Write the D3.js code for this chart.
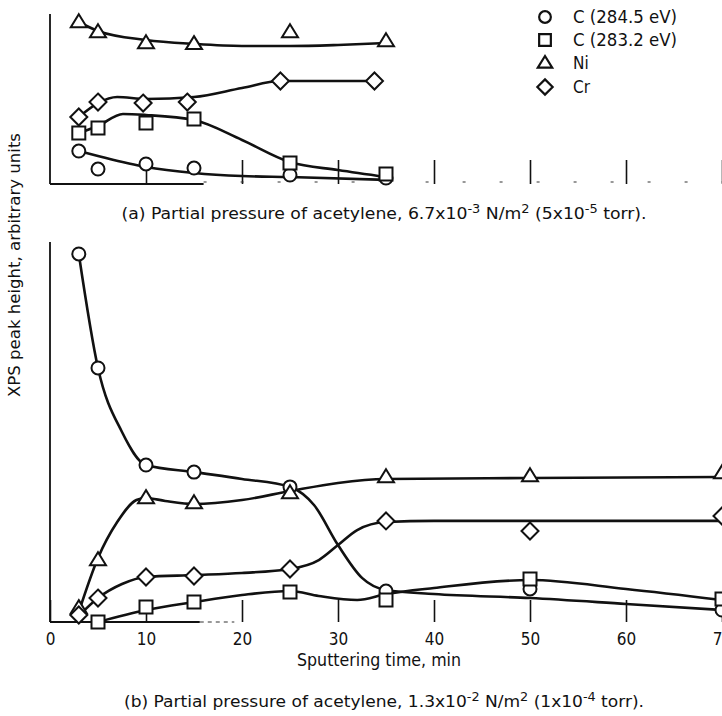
<!DOCTYPE html>
<html>
<head>
<meta charset="utf-8">
<script src="https://cdnjs.cloudflare.com/ajax/libs/d3/7.8.5/d3.min.js"></script>
<style>
  body { margin: 0; background: #fff; }
  svg { display: block; }
  text { font-family: "DejaVu Sans Condensed", "Liberation Sans Narrow", sans-serif; font-stretch: condensed; fill: #111; }
</style>
</head>
<body>
<svg id="chart" width="722" height="716"></svg>
<script>
var width = 722;
var height = 716;

// tick values along sputtering time, min
var timeTicks = [0, 10, 20, 30, 40, 50, 60, 70];

// legend
var seriesNames = ["C (284.5 eV)", "C (283.2 eV)", "Ni", "Cr"];
var seriesShapes = ["circle", "square", "triangle", "diamond"];

// ---- panel (a): 6.7x10^-3 N/m2, peak height in arbitrary units (0..10)
var aTimes = [3, 5, 10, 15, 25, 35];
var aCrTimes = [3, 5, 9.7, 14.3, 24, 33.8];
var aC2845 = [1.94, 0.88, 1.18, 0.94, 0.53, 0.35];
var aC2832 = [3.0, 3.29, 3.59, 3.82, 1.24, 0.59];
var aNi = [9.53, 8.94, 8.29, 8.24, 8.94, 8.41];
var aCr = [3.94, 4.82, 4.76, 4.82, 6.06, 6.06];
// hand-faired curves of panel (a), [time, height]
var aC2845Fit = [[3, 1.94], [5, 1.65], [10, 1.0], [15, 0.65], [20, 0.47], [25, 0.41], [35, 0.24]];
var aC2832Fit = [[3, 3.0], [5, 3.41], [7.6, 4.12], [10, 4.06], [15, 3.76], [20, 2.59], [25, 1.29], [30, 0.82], [35, 0.41]];
var aNiFit = [[3, 9.53], [5, 9.0], [10, 8.47], [15, 8.24], [20, 8.12], [25, 8.12], [30, 8.18], [35, 8.29]];
var aCrFit = [[3, 3.94], [5, 4.76], [7, 5.12], [10, 5.0], [15, 5.12], [20, 5.65], [24, 6.06], [33.8, 6.06]];

// ---- panel (b): 1.3x10^-2 N/m2, peak height in arbitrary units (0..20)
var bTimes = [3, 5, 10, 15, 25, 35, 50, 70];
var bC2832Times = [5, 10, 15, 25, 35, 50, 70];
var bC2845 = [19.37, 13.37, 8.26, 7.89, 7.11, 1.63, 1.74, 0.63];
var bC2832 = [0, 0.79, 1.05, 1.58, 1.16, 2.26, 1.21];
var bNi = [0.74, 3.26, 6.53, 6.26, 6.79, 7.63, 7.68, 7.84];
var bCr = [0.37, 1.26, 2.37, 2.42, 2.79, 5.32, 4.79, 5.58];
var bC2845Fit = [[3, 19.37], [5, 13.37], [7.5, 10.0], [10, 8.26], [15, 7.89], [20, 7.53], [25, 7.11], [27.5, 6.16], [30, 4.05], [32.5, 2.32], [35, 1.68], [40, 1.47], [50, 1.26], [60, 0.95], [70, 0.63]];
var bC2832Fit = [[5, 0], [10, 0.63], [15, 1.05], [20, 1.42], [25, 1.63], [28, 1.37], [32, 1.16], [35, 1.47], [40, 1.79], [50, 2.21], [60, 1.74], [70, 1.16]];
var bNiFit = [[3, 0.53], [5, 3.37], [7, 5.26], [9, 6.42], [10, 6.53], [12, 6.37], [15, 6.21], [20, 6.42], [25, 6.89], [30, 7.32], [35, 7.53], [50, 7.58], [70, 7.63]];
var bCrFit = [[3, 0.32], [5, 1.26], [7.5, 2.0], [10, 2.37], [15, 2.47], [20, 2.58], [25, 2.79], [28, 3.26], [30, 4.05], [32, 4.84], [35, 5.26], [40, 5.32], [70, 5.32]];

var svg = d3.select("#chart");
svg.append("rect").attr("width", width).attr("height", height).attr("fill", "#fff");

var xScale = d3.scaleLinear().domain([0, 70]).range([50, 722]);
var yA = d3.scaleLinear().domain([0, 10]).range([184, 14]);
var yB = d3.scaleLinear().domain([0, 20]).range([622, 242]);

function markerPath(kind, cx, cy, k) {
    k = k || 1;
    if (kind === "circle") {
        let r = 6.5 * k;
        return "M" + (cx - r) + "," + cy + "a" + r + "," + r + " 0 1,0 " + (2 * r) + ",0a" + r + "," + r + " 0 1,0 " + (-2 * r) + ",0Z";
    }
    if (kind === "square") {
        let s = 6.5 * k;
        return "M" + (cx - s) + "," + (cy - s) + "h" + (2 * s) + "v" + (2 * s) + "h" + (-2 * s) + "Z";
    }
    if (kind === "triangle") {
        let w = 16 * k, h = 13 * k;
        return "M" + cx + "," + (cy - h * 0.6) + "L" + (cx + w / 2) + "," + (cy + h * 0.4) + "L" + (cx - w / 2) + "," + (cy + h * 0.4) + "Z";
    }
    let d = 8.5 * k;
    return "M" + cx + "," + (cy - d) + "L" + (cx + d) + "," + cy + "L" + cx + "," + (cy + d) + "L" + (cx - d) + "," + cy + "Z";
}

function drawPanel(yScale, fits, series) {
    let g = svg.append("g");
    let line = d3.line()
        .x(d => xScale(d[0]))
        .y(d => yScale(d[1]))
        .curve(d3.curveMonotoneX);
    fits.forEach(function(f) {
        g.append("path")
            .attr("d", line(f))
            .attr("fill", "none")
            .attr("stroke", "#111")
            .attr("stroke-width", 2.6)
            .attr("stroke-linejoin", "round");
    });
    series.forEach(function(s) {
        g.selectAll(null)
            .data(s.values.map((v, i) => [s.times[i], v]))
            .enter().append("path")
            .attr("d", d => markerPath(s.shape, xScale(d[0]), yScale(d[1])))
            .attr("fill", "#fff")
            .attr("stroke", "#111")
            .attr("stroke-width", 2);
    });
    return g;
}

// ---------- axes (a)
var axisA = d3.axisBottom(xScale).tickValues(timeTicks.slice(1)).tickSizeInner(-24).tickSizeOuter(0).tickFormat("");
var gA = svg.append("g").attr("transform", "translate(0," + yA(0) + ")").call(axisA);
gA.select(".domain").remove();
gA.selectAll(".tick line").attr("stroke", "#111").attr("stroke-width", 1.6);
svg.append("line").attr("x1", xScale(0)).attr("x2", xScale(0)).attr("y1", yA(10)).attr("y2", yA(0))
    .attr("stroke", "#111").attr("stroke-width", 1.8);
svg.append("line").attr("x1", xScale(0)).attr("x2", xScale(16)).attr("y1", yA(0)).attr("y2", yA(0))
    .attr("stroke", "#111").attr("stroke-width", 1.8);
svg.append("line").attr("x1", xScale(16)).attr("x2", xScale(70)).attr("y1", yA(0) - 2).attr("y2", yA(0) - 2)
    .attr("stroke", "#333").attr("stroke-width", 1.2).attr("stroke-dasharray", "3,34");

drawPanel(yA, [aC2845Fit, aC2832Fit, aNiFit, aCrFit], [
    {shape: "circle", times: aTimes, values: aC2845},
    {shape: "square", times: aTimes, values: aC2832},
    {shape: "triangle", times: aTimes, values: aNi},
    {shape: "diamond", times: aCrTimes, values: aCr}
]);

// ---------- legend
var legend = svg.append("g");
var legendRows = [17, 40, 63, 87];
var legendWidths = [104, 104, null, null];
seriesNames.forEach(function(name, i) {
    legend.append("path")
        .attr("d", markerPath(seriesShapes[i], 545, legendRows[i], 0.9))
        .attr("fill", "#fff").attr("stroke", "#111").attr("stroke-width", 2.2);
    let t = legend.append("text")
        .attr("x", 573).attr("y", legendRows[i] + 6)
        .style("font-size", "17px")
        .text(name);
    if (legendWidths[i]) t.attr("textLength", legendWidths[i]).attr("lengthAdjust", "spacingAndGlyphs");
});

// caption (a)
function caption(y, parts, len) {
    let t = svg.append("text")
        .attr("x", 384).attr("y", y)
        .attr("text-anchor", "middle")
        .style("font-size", "16px");
    parts.forEach(function(p) {
        let ts = t.append("tspan").text(p[0]);
        if (p[1] === "sup") {
            ts.attr("dy", -6).style("font-size", "12px");
        } else if (p[1] === "back") {
            ts.attr("dy", 6);
        }
    });
    t.attr("textLength", len).attr("lengthAdjust", "spacingAndGlyphs");
}
caption(219, [["(a) Partial pressure of acetylene,  6.7x10"], ["-3", "sup"], [" N/m", "back"], ["2", "sup"], [" (5x10", "back"], ["-5", "sup"], [" torr).", "back"]], 525);

// ---------- axes (b)
var axisB = d3.axisBottom(xScale).tickValues(timeTicks).tickSizeInner(-22).tickSizeOuter(0).tickPadding(11);
var gB = svg.append("g").attr("transform", "translate(0," + yB(0) + ")").call(axisB);
gB.select(".domain").remove();
gB.selectAll(".tick line").attr("stroke", "#111").attr("stroke-width", 1.6);
gB.selectAll(".tick text").style("font-size", "17px").style("font-family", null).attr("fill", "#111");
svg.append("line").attr("x1", xScale(0)).attr("x2", xScale(0)).attr("y1", yB(20)).attr("y2", yB(0))
    .attr("stroke", "#111").attr("stroke-width", 1.8);
svg.append("line").attr("x1", xScale(0)).attr("x2", xScale(15.6)).attr("y1", yB(0)).attr("y2", yB(0))
    .attr("stroke", "#111").attr("stroke-width", 1.8);
svg.append("line").attr("x1", xScale(15.6)).attr("x2", xScale(19.2)).attr("y1", yB(0)).attr("y2", yB(0))
    .attr("stroke", "#333").attr("stroke-width", 1.2).attr("stroke-dasharray", "4,4");

drawPanel(yB, [bC2845Fit, bC2832Fit, bNiFit, bCrFit], [
    {shape: "circle", times: bTimes, values: bC2845},
    {shape: "square", times: bC2832Times, values: bC2832},
    {shape: "triangle", times: bTimes, values: bNi},
    {shape: "diamond", times: bTimes, values: bCr}
]);

svg.append("text")
    .attr("x", 379).attr("y", 666)
    .attr("text-anchor", "middle")
    .style("font-size", "17px")
    .attr("textLength", 164).attr("lengthAdjust", "spacingAndGlyphs")
    .text("Sputtering time,  min");

caption(707, [["(b) Partial pressure of acetylene,  1.3x10"], ["-2", "sup"], [" N/m", "back"], ["2", "sup"], [" (1x10", "back"], ["-4", "sup"], [" torr).", "back"]], 520);

// shared y label
svg.append("text")
    .attr("transform", "translate(20,265) rotate(-90)")
    .attr("text-anchor", "middle")
    .style("font-size", "16px")
    .attr("textLength", 264).attr("lengthAdjust", "spacingAndGlyphs")
    .text("XPS peak height,  arbitrary units");
</script>
</body>
</html>
